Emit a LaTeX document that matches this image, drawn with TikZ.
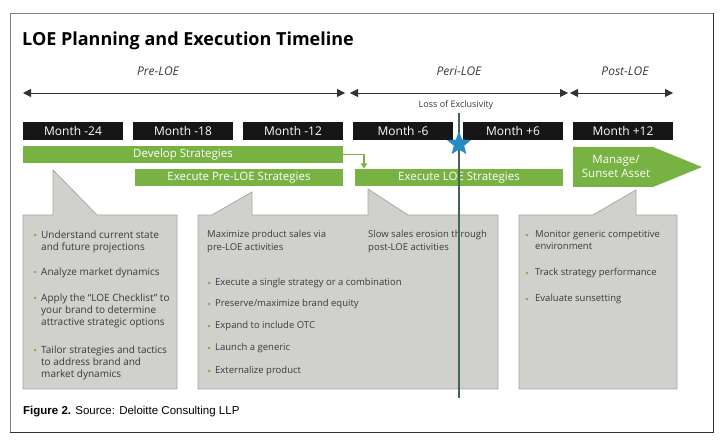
\documentclass[tikz,border=0pt]{standalone}
\usepackage{fontspec}
\setmainfont{Open Sans}
\newfontfamily\capfont{Liberation Sans}
\usetikzlibrary{arrows.meta,shapes.geometric}
\definecolor{loegreen}{RGB}{120,178,67}
\definecolor{monthblack}{RGB}{22,22,22}
\definecolor{boxgray}{RGB}{208,208,204}
\definecolor{boxedge}{RGB}{168,168,164}
\definecolor{textgray}{RGB}{58,58,58}
\definecolor{linegray}{RGB}{50,50,50}
\definecolor{loeline}{RGB}{70,100,85}
\definecolor{starblue}{RGB}{38,140,196}
\tikzset{
  month/.style={fill=monthblack, text=white, minimum width=100pt, minimum height=18pt, inner sep=0pt, font=\fontsize{12}{14}\selectfont},
  bar/.style={fill=loegreen, text=white, minimum height=17pt, inner sep=0pt, font=\fontsize{11.5}{13}\selectfont},
  phase/.style={draw=linegray, line width=0.8pt, {Triangle[length=8pt,width=8pt]}-{Triangle[length=8pt,width=8pt]}},
  phaselabel/.style={text=textgray, inner sep=0pt, font=\fontsize{12}{14}\selectfont\itshape},
  callout/.style={fill=boxgray, draw=boxedge, line width=0.8pt},
  item/.style={anchor=north west, inner sep=0pt, align=left, text=textgray, font=\fontsize{9.5}{12.3}\selectfont},
  dot/.style={circle, fill=loegreen, inner sep=0pt, minimum size=2.6pt},
}
\begin{document}
\begin{tikzpicture}[x=1pt,y=-1pt]
\useasboundingbox (0,0) rectangle (726,446);
\fill[white] (0,0) rectangle (726,446);
\draw[gray, line width=0.8pt] (10,432) -- (10,13) -- (713,13);
\draw[black!80, line width=0.9pt] (713,13) -- (713,432) -- (10,432);

\node[anchor=base west, inner sep=0pt, font=\fontsize{18}{21}\selectfont\bfseries] (title) at (22,46) {LOE Planning and Execution Timeline};

% phases
\node[phaselabel] (pre) at (158,71) {Pre-LOE};
\node[phaselabel] (peri) at (459,71) {Peri-LOE};
\node[phaselabel] (post) at (625,71) {Post-LOE};
\coordinate (prea) at (23,93);
\coordinate (preb) at (345,93);
\coordinate (peria) at (350,93);
\coordinate (perib) at (568,93);
\coordinate (posta) at (570,93);
\coordinate (postb) at (673,93);
\draw[phase] (prea) -- (preb);
\draw[phase] (peria) -- (perib);
\draw[phase] (posta) -- (postb);
\node[text=textgray, inner sep=0pt, font=\fontsize{9}{11}\selectfont] (loss) at (456,105) {Loss of Exclusivity};

% months
\node[month] (m24) at (73,131.5) {Month -24};
\node[month] (m18) at (183,131.5) {Month -18};
\node[month] (m12) at (293,131.5) {Month -12};
\node[month] (m6) at (403,131.5) {Month -6};
\node[month] (p6) at (513,131.5) {Month +6};
\node[month] (p12) at (623,131.5) {Month +12};

% bars
\node[bar, minimum width=320pt] (dev) at (183,154.5) {Develop Strategies};
\node[bar, minimum width=208pt] (epre) at (239,178) {Execute Pre-LOE Strategies};
\node[bar, minimum width=208pt] (eloe) at (459,178) {Execute LOE Strategies};
\fill[loegreen] (573,147) -- (653,147) -- (702,167) -- (653,187) -- (573,187) -- cycle;
\node[text=white, inner sep=0pt, align=center, font=\fontsize{11.5}{14.5}\selectfont] (mng) at (616,166.5) {Manage/\\Sunset Asset};
\coordinate (drop) at (364,168.5);
\draw[loegreen, line width=1.8pt, -{Triangle[length=5pt,width=6.5pt]}] (dev.east) -| (drop);

% callouts
\path[callout] (23,215) -- (53,215) -- (53,170) -- (97,215) -- (177,215) -- (177,389) -- (23,389) -- cycle;
\path[callout] (198,215) -- (212,215) -- (252,192) -- (252,215) -- (368,215) -- (368,189) -- (408,215) -- (498,215) -- (498,389) -- (198,389) -- cycle;
\path[callout] (519,215) -- (593,215) -- (636,190) -- (636,215) -- (677,215) -- (677,389) -- (519,389) -- cycle;

\node[dot] (d1) at (35,235) {};
\node[item, font=\fontsize{10}{12.3}\selectfont] (i1) at (41,230.3) {Understand current state\\and future projections};
\node[dot] (d2) at (35,272) {};
\node[item, font=\fontsize{10}{12.3}\selectfont] (i2) at (41,267.3) {Analyze market dynamics};
\node[dot] (d3) at (35,298) {};
\node[item, font=\fontsize{10}{12.3}\selectfont] (i3) at (41,293.3) {Apply the “LOE Checklist” to\\your brand to determine\\attractive strategic options};
\node[dot] (d4) at (35,350) {};
\node[item, font=\fontsize{10}{12.3}\selectfont] (i4) at (41,345.3) {Tailor strategies and tactics\\to address brand and\\market dynamics};

\node[item] (max) at (207,230.3) {Maximize product sales via\\pre-LOE activities};
\node[item] (slow) at (368,230.3) {Slow sales erosion through\\post-LOE activities};
\node[dot] (d5) at (209,283) {};
\node[item] (i5) at (215,278.3) {Execute a single strategy or a combination};
\node[dot] (d6) at (209,304) {};
\node[item] (i6) at (215,299.3) {Preserve/maximize brand equity};
\node[dot] (d7) at (209,326) {};
\node[item] (i7) at (215,321.3) {Expand to include OTC};
\node[dot] (d8) at (209,348) {};
\node[item] (i8) at (215,343.3) {Launch a generic};
\node[dot] (d9) at (209,371) {};
\node[item] (i9) at (215,366.3) {Externalize product};

\node[dot] (d10) at (527,235) {};
\node[item] (i10) at (535,230.3) {Monitor generic competitive\\environment};
\node[dot] (d11) at (527,273) {};
\node[item] (i11) at (535,268.3) {Track strategy performance};
\node[dot] (d12) at (527,299) {};
\node[item] (i12) at (535,294.3) {Evaluate sunsetting};

% loss of exclusivity
\coordinate (loetop) at (459,113);
\coordinate (loebot) at (459,398);
\draw[loeline, line width=1.3pt] (loetop) -- (loebot);
\node[star, star points=5, star point ratio=2.3, fill=starblue, inner sep=0pt, minimum size=25pt] (star) at (459,144) {};

\node[anchor=base west, inner sep=0pt, font=\capfont\fontsize{11.5}{13}\selectfont] (fig) at (23,414) {\textbf{Figure 2.} Source: Deloitte Consulting LLP};
\end{tikzpicture}
\end{document}
